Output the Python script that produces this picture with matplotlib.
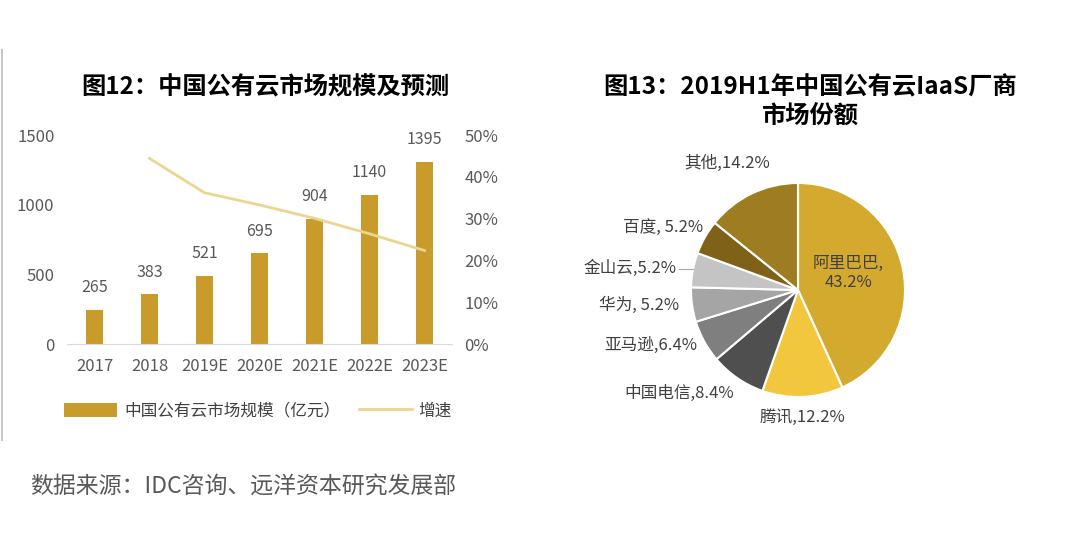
import matplotlib
matplotlib.use("Agg")
import matplotlib.pyplot as plt
import numpy as np

plt.rcParams['font.family'] = ['Noto Sans CJK SC', 'DejaVu Sans']

# ---------------- 数据 ----------------
years = ["2017", "2018", "2019E", "2020E", "2021E", "2022E", "2023E"]
bar_heights = [246, 358, 489, 652, 898, 1070, 1309]   # 柱子高度
bar_labels = ["265", "383", "521", "695", "904", "1140", "1395"]  # 柱上标注
growth_years = ["2018", "2019E", "2020E", "2021E", "2022E", "2023E"]
growth = [0.444, 0.362, 0.333, 0.301, 0.264, 0.224]

vendors = ["阿里巴巴", "腾讯", "中国电信", "亚马逊", "华为", "金山云", "百度", "其他"]
shares = [43.2, 12.2, 8.4, 6.4, 5.2, 5.2, 5.2, 14.2]
pie_labels = ["阿里巴巴,\n43.2%", "腾讯,12.2%", "中国电信,8.4%", "亚马逊,6.4%",
              "华为, 5.2%", "金山云,5.2%", "百度, 5.2%", "其他,14.2%"]

# 样式
bar_color = "#C99B2B"
line_color = "#EBD590"
pie_colors = ["#D3A92E", "#F2C63D", "#4F4F4F", "#7F7F7F", "#A5A5A5", "#C4C4C4", "#7F6217", "#9E7C21"]
gray = "#595959"

W, H = 1080, 534
fig = plt.figure(figsize=(W / 100, H / 100), dpi=100)

# 左侧边线
fig.add_artist(plt.Line2D([1.5 / W, 1.5 / W], [1 - 50 / H, 1 - 440 / H], color="#C8C8C8", lw=1.5))

# ---------------- 图12 柱状图 ----------------
ax = fig.add_axes([67 / W, (H - 344.3) / H, 385 / W, 209.3 / H])
x = np.arange(len(years))
bars = ax.bar(x, bar_heights, width=0.31, color=bar_color, zorder=2)
for b, lab in zip(bars, bar_labels):
    ax.annotate(lab, (b.get_x() + b.get_width() / 2, b.get_height()),
                xytext=(0, 16), textcoords="offset points", ha="center", va="center",
                fontsize=11.5, color=gray)
ax.set_xlim(-0.5, len(years) - 0.5)
ax.set_ylim(0, 1500)
ax.set_yticks([0, 500, 1000, 1500])
ax.set_xticks(x)
ax.set_xticklabels(years)
for s in ["top", "right", "left"]:
    ax.spines[s].set_visible(False)
ax.spines["bottom"].set_color("#D9D9D9")
ax.tick_params(length=0, labelsize=12, labelcolor=gray)
ax.tick_params(axis="y", pad=9)
ax.tick_params(axis="x", pad=10)

ax2 = ax.twinx()
gx = [years.index(g) for g in growth_years]
line, = ax2.plot(gx, growth, color=line_color, lw=2, zorder=3)
ax2.set_ylim(0, 0.5)
ax2.set_yticks([0, 0.1, 0.2, 0.3, 0.4, 0.5])
ax2.set_yticklabels(["0%", "10%", "20%", "30%", "40%", "50%"])
for s in ax2.spines.values():
    s.set_visible(False)
ax2.tick_params(length=0, labelsize=12, labelcolor=gray, pad=9)

fig.text(265 / W, 1 - 87 / H, "图12：中国公有云市场规模及预测", ha="center", va="center",
         fontsize=17.5, fontweight="bold", color="black")

fig.legend([bars, line], ["中国公有云市场规模（亿元）", "增速"], loc="center",
           bbox_to_anchor=(258 / W, 1 - 411 / H), ncol=2, frameon=False,
           fontsize=12, labelcolor="#404040", handlelength=3.2, handleheight=0.9,
           columnspacing=1.1, handletextpad=0.4)

# ---------------- 图13 饼图 ----------------
r = 107
pax = fig.add_axes([(798 - r) / W, (H - 290 - r) / H, 2 * r / W, 2 * r / H])
wedges, _ = pax.pie(shares, colors=pie_colors, startangle=90, counterclock=False,
                    wedgeprops=dict(edgecolor="white", linewidth=1.5))
pax.set_xlim(-1, 1)
pax.set_ylim(-1, 1)
pax.set_aspect("equal")

# 标签位置（以半径为单位）
label_pos = [(0.47, 0.16, "center"), (0.04, -1.19, "center"), (-0.60, -0.97, "right"),
             (-0.94, -0.52, "right"), (-1.11, -0.14, "right"), (-1.14, 0.20, "right"),
             (-0.89, 0.58, "right"), (-0.66, 1.18, "center")]
for lab, (lx, ly, ha) in zip(pie_labels, label_pos):
    pax.text(lx, ly, lab, ha=ha, va="center", fontsize=12, color="#404040",
             linespacing=1.1, clip_on=False)
pax.plot([-1.11, -0.98], [0.20, 0.20], color="#A6A6A6", lw=0.8, clip_on=False)

fig.text(810 / W, 1 - 87 / H, "图13：2019H1年中国公有云IaaS厂商", ha="center", va="center",
         fontsize=17.5, fontweight="bold", color="black")
fig.text(810 / W, 1 - 116 / H, "市场份额", ha="center", va="center",
         fontsize=17.5, fontweight="bold", color="black")

# ---------------- 来源 ----------------
fig.text(30 / W, 1 - 487 / H, "数据来源：IDC咨询、远洋资本研究发展部", ha="left", va="center",
         fontsize=16.5, color=gray)

fig.savefig("out.png", dpi=100, facecolor="white")
